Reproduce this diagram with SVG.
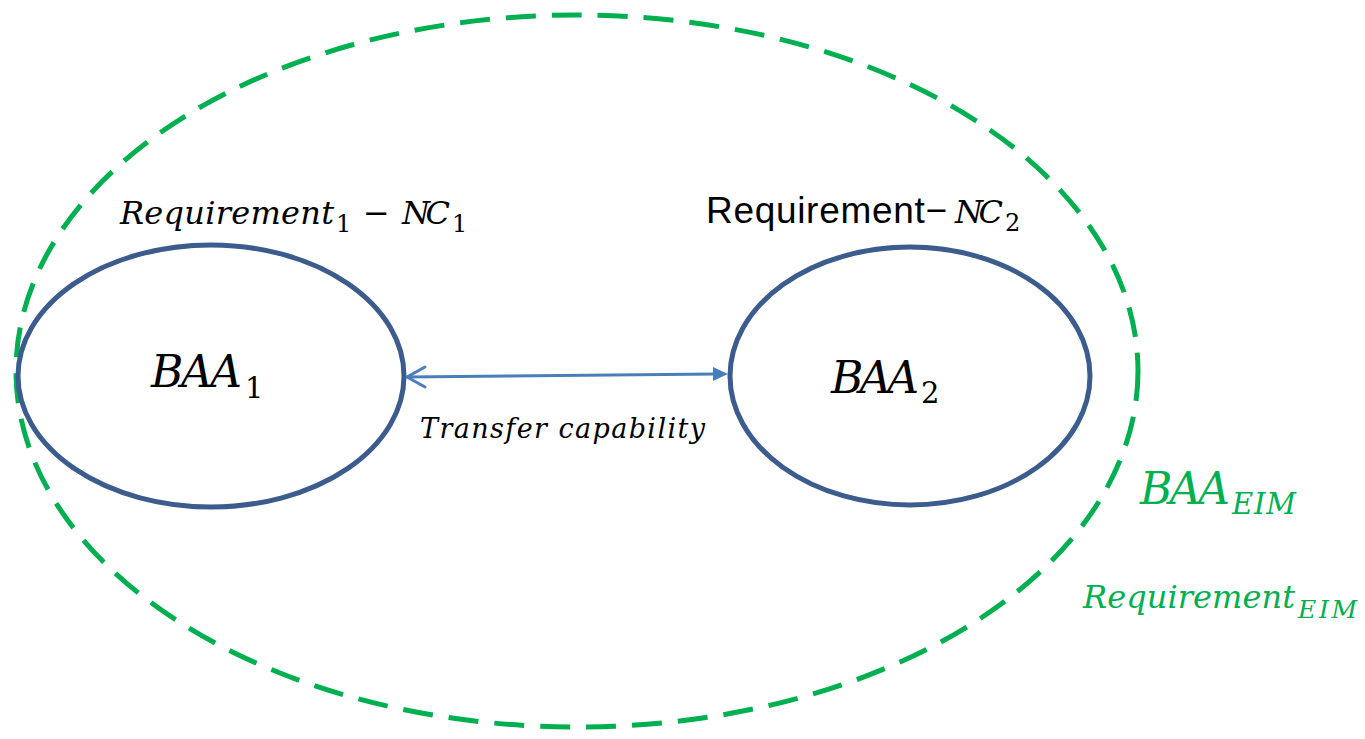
<svg xmlns="http://www.w3.org/2000/svg" width="1365" height="739" viewBox="0 0 1365 739">
  <style>
    .math { font-family: "DejaVu Serif", "Liberation Serif", serif; font-style: italic; }
    .up { font-family: "DejaVu Serif", "Liberation Serif", serif; font-style: normal; }
    .sans { font-family: "Liberation Sans", Arial, sans-serif; }
    .area { fill: none; stroke: #3B5C8C; stroke-width: 5; }
    .eim { fill: none; stroke: #00B050; stroke-width: 5; stroke-dasharray: 30 16; }
    .green { fill: #00B050; }
    .dark { fill: #000000; }
    .link { stroke: #4A7EBB; stroke-width: 3; fill: none; }
  </style>
  <rect width="1365" height="739" fill="#ffffff"/>

  <!-- EIM balancing area -->
  <g id="baa-eim">
    <ellipse class="eim" cx="577" cy="371" rx="561" ry="356"/>
    <text class="math green" font-size="44" x="1140" y="504" textLength="90">BAA</text>
    <text class="math green" font-size="29" x="1232" y="514" textLength="64">EIM</text>
    <text class="math green" font-size="32" x="1083" y="608" textLength="212">Requirement</text>
    <text class="math green" font-size="25" x="1298" y="618" textLength="59">EIM</text>
  </g>

  <!-- Balancing area 1 -->
  <g id="baa1">
    <ellipse class="area" cx="211" cy="376" rx="193" ry="131"/>
    <text class="math dark" font-size="44" x="151" y="387" textLength="91">BAA</text>
    <text class="up dark" font-size="29" x="245" y="398">1</text>
    <text class="math dark" font-size="32" x="120" y="224" textLength="214">Requirement</text>
    <text class="up dark" font-size="24" x="336" y="232">1</text>
    <text class="up dark" font-size="32" x="363" y="224">−</text>
    <text class="math dark" font-size="32" x="402" y="224" textLength="48">NC</text>
    <text class="up dark" font-size="24" x="452" y="232">1</text>
  </g>

  <!-- Balancing area 2 -->
  <g id="baa2">
    <ellipse class="area" cx="910" cy="376" rx="180" ry="129"/>
    <text class="math dark" font-size="44" x="831" y="393" textLength="88">BAA</text>
    <text class="up dark" font-size="29" x="921" y="403">2</text>
    <text class="sans dark" font-size="37" x="706" y="223" textLength="241">Requirement−</text>
    <text class="math dark" font-size="32" x="955" y="223" textLength="48">NC</text>
    <text class="up dark" font-size="24" x="1005" y="231">2</text>
  </g>

  <!-- Transfer link between the two areas -->
  <g id="connectors">
    <line class="link" x1="407" y1="377" x2="716" y2="374"/>
    <polyline class="link" points="425,367 407,377 425,387" stroke-linejoin="round" stroke-linecap="round"/>
    <polygon points="728,374 713,367 713,381" fill="#4A7EBB"/>
    <text class="math dark" font-size="27" x="420" y="438" textLength="285">Transfer capability</text>
  </g>
</svg>
